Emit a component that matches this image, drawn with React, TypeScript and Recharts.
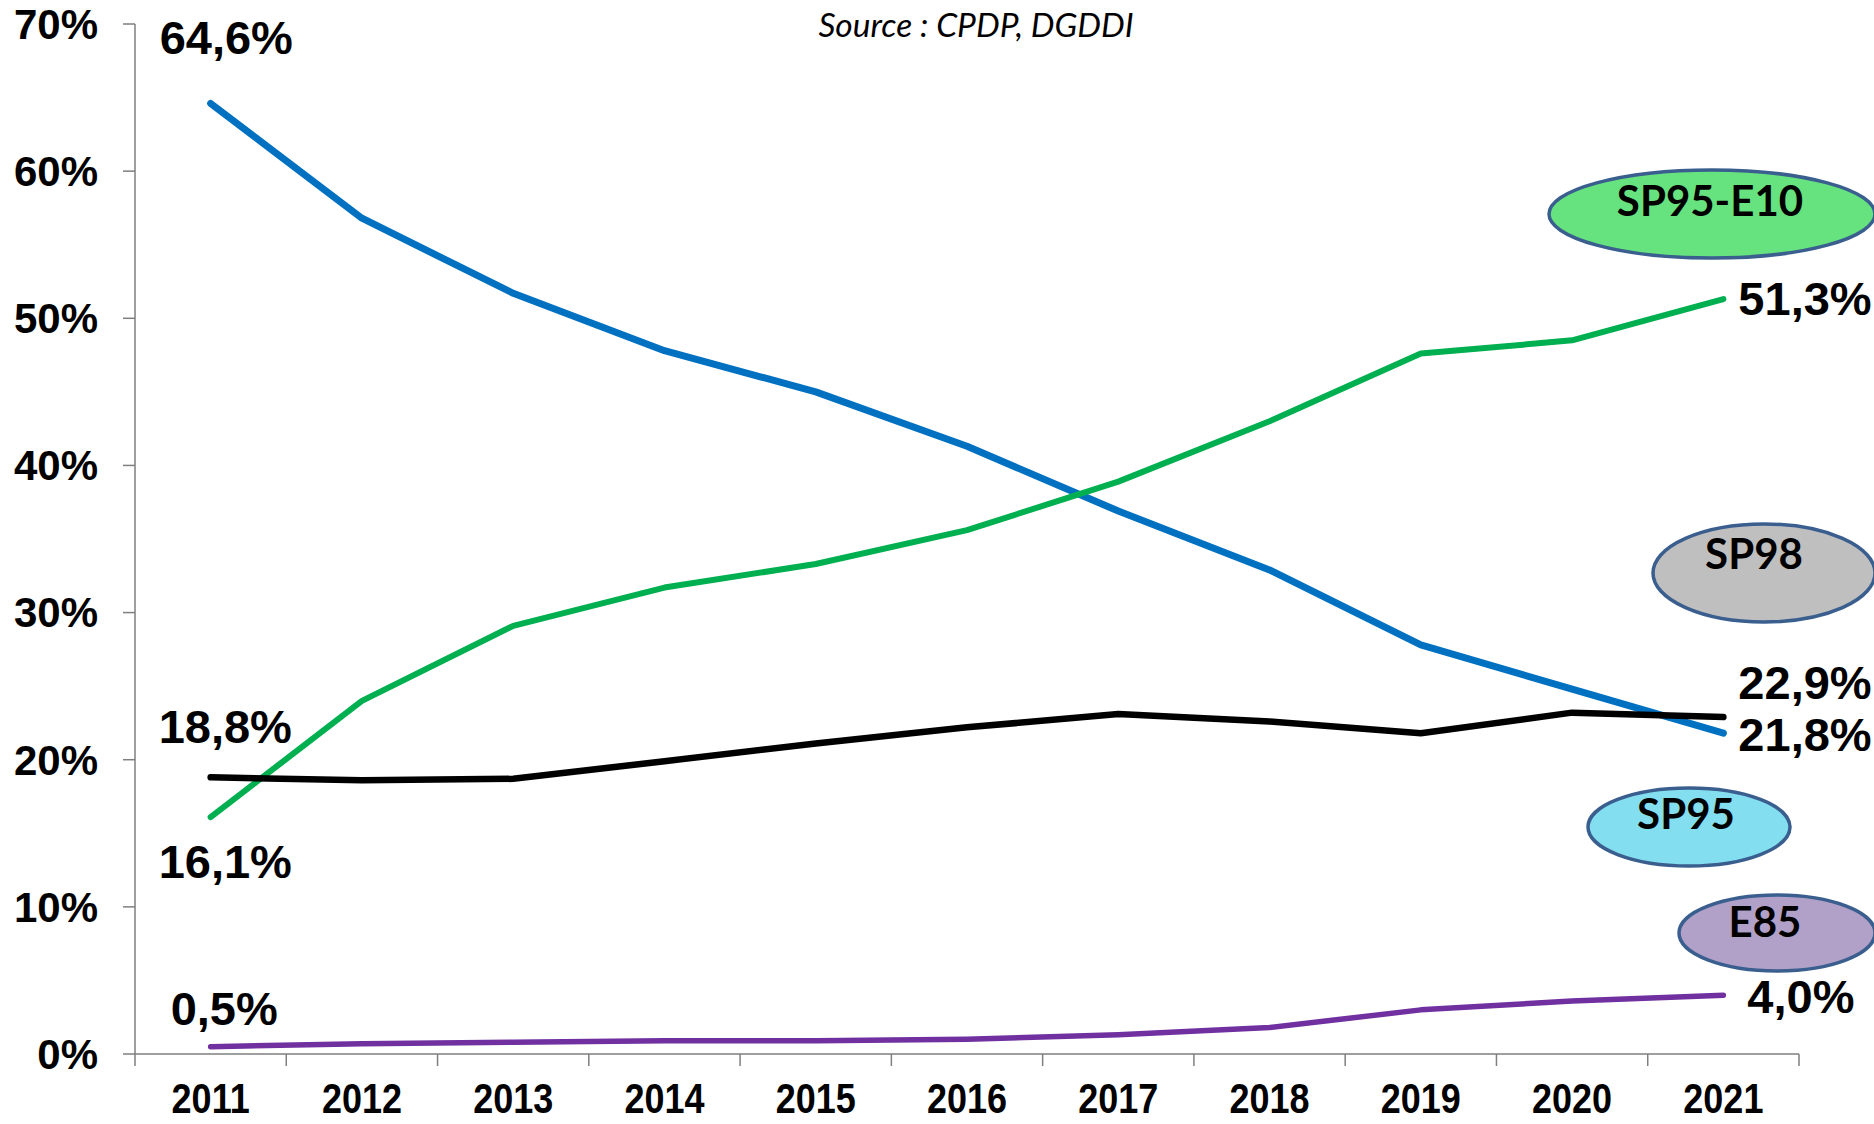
import React from 'react';
import { LineChart, Line, XAxis, YAxis, LabelList } from 'recharts';

const years = [2011, 2012, 2013, 2014, 2015, 2016, 2017, 2018, 2019, 2020, 2021];
const sp95 = [64.6, 56.8, 51.7, 47.8, 45.0, 41.3, 36.9, 32.9, 27.8, 24.8, 21.8];
const sp95e10 = [16.1, 24.0, 29.1, 31.7, 33.3, 35.6, 38.9, 43.0, 47.6, 48.5, 51.3];
const sp98 = [18.8, 18.6, 18.7, 19.9, 21.1, 22.2, 23.1, 22.6, 21.8, 23.2, 22.9];
const e85 = [0.5, 0.7, 0.8, 0.9, 0.9, 1.0, 1.3, 1.8, 3.0, 3.6, 4.0];
const yTicks = [0, 10, 20, 30, 40, 50, 60, 70];
const boundaryTicks = [2010.5, 2011.5, 2012.5, 2013.5, 2014.5, 2015.5, 2016.5, 2017.5, 2018.5, 2019.5, 2020.5, 2021.5];
const sourceText = 'Source : CPDP, DGDDI';
const legendBadges = [
  { name: 'SP95-E10', cx: 1712, cy: 214, rx: 163, ry: 44, fill: '#66E37E', tx: 1710, ty: 216 },
  { name: 'SP98', cx: 1764, cy: 573, rx: 111, ry: 49, fill: '#BFBFBF', tx: 1754, ty: 569 },
  { name: 'SP95', cx: 1689, cy: 827, rx: 101, ry: 39, fill: '#83DEF0', tx: 1686, ty: 829 },
  { name: 'E85', cx: 1777, cy: 933, rx: 98, ry: 38, fill: '#B1A0C7', tx: 1765, ty: 937 },
];

const data = years.map((y, i) => ({ year: y, sp95: sp95[i], sp95e10: sp95e10[i], sp98: sp98[i], e85: e85[i] }));

const fmt = (v: number) => v.toFixed(1).replace('.', ',') + '%';

type Off = { dx: number; dy: number };
const makeLabel = (cfg: Record<number, Off>) => (props: any) => {
  const { x, y, value, index } = props;
  const c = cfg[index];
  if (!c) return null;
  return (
    <text
      x={x + c.dx}
      y={y + c.dy}
      textAnchor="start"
      fontFamily="'Liberation Sans', Arial, sans-serif"
      fontWeight="bold"
      fontSize={47}
      fill="#000"
    >
      {fmt(value)}
    </text>
  );
};

const XTick = (props: any) => {
  const { x, y, payload } = props;
  return (
    <g transform={`translate(${x},${y})`}>
      <text
        transform="scale(1,1.18)"
        textAnchor="middle"
        dy="0.72em"
        fontFamily="'Liberation Sans', Arial, sans-serif"
        fontWeight="bold"
        fontSize={36}
        fill="#000"
      >
        {payload.value}
      </text>
    </g>
  );
};

const axisGray = '#7f7f7f';

export default function App() {
  return (
    <div style={{ position: 'absolute', left: 0, top: 0, width: 1874, height: 1124, background: '#fff' }}>
      <LineChart
        width={1874}
        height={1124}
        data={data}
        margin={{ top: 24, right: 75, bottom: 0, left: 0 }}
      >
        <XAxis
          xAxisId="b"
          type="number"
          dataKey="year"
          domain={[2010.5, 2021.5]}
          ticks={boundaryTicks}
          interval={0}
          height={1}
          tickSize={12}
          tickFormatter={() => ''}
          axisLine={{ stroke: axisGray, strokeWidth: 1.5 }}
          tickLine={{ stroke: axisGray, strokeWidth: 1.5 }}
        />
        <XAxis
          xAxisId="l"
          type="number"
          dataKey="year"
          domain={[2010.5, 2021.5]}
          ticks={years}
          interval={0}
          height={69}
          tickSize={0}
          tickMargin={27}
          axisLine={false}
          tickLine={false}
          tick={<XTick />}
        />
        <YAxis
          width={135}
          domain={[0, 70]}
          ticks={yTicks}
          interval={0}
          tickSize={12}
          tickMargin={25}
          tickFormatter={(v: number) => v + '%'}
          axisLine={{ stroke: axisGray, strokeWidth: 1.5 }}
          tickLine={{ stroke: axisGray, strokeWidth: 1.5 }}
          tick={{ fontFamily: "'Liberation Sans', Arial, sans-serif", fontWeight: 'bold', fontSize: 42, fill: '#000' }}
        />
        <Line xAxisId="l" dataKey="e85" stroke="#7030A0" strokeWidth={5.5} dot={false} strokeLinecap="round" strokeLinejoin="round" isAnimationActive={false}>
          <LabelList dataKey="e85" content={makeLabel({ 0: { dx: -40, dy: -22 }, 10: { dx: 24, dy: 18 } })} />
        </Line>
        <Line xAxisId="l" dataKey="sp95" stroke="#0070C0" strokeWidth={7} dot={false} strokeLinecap="round" strokeLinejoin="round" isAnimationActive={false}>
          <LabelList dataKey="sp95" content={makeLabel({ 0: { dx: -51, dy: -49 }, 10: { dx: 15, dy: 18 } })} />
        </Line>
        <Line xAxisId="l" dataKey="sp95e10" stroke="#00B050" strokeWidth={6} dot={false} strokeLinecap="round" strokeLinejoin="round" isAnimationActive={false}>
          <LabelList dataKey="sp95e10" content={makeLabel({ 0: { dx: -52, dy: 61 }, 10: { dx: 15, dy: 16 } })} />
        </Line>
        <Line xAxisId="l" dataKey="sp98" stroke="#000000" strokeWidth={6.5} dot={false} strokeLinecap="round" strokeLinejoin="round" isAnimationActive={false}>
          <LabelList dataKey="sp98" content={makeLabel({ 0: { dx: -52, dy: -34 }, 10: { dx: 15, dy: -18 } })} />
        </Line>
      </LineChart>
      <svg width={1874} height={1124} style={{ position: 'absolute', left: 0, top: 0, pointerEvents: 'none' }}>
        <text x={976} y={37} textAnchor="middle" fontFamily="Lato, 'Open Sans', sans-serif" fontStyle="italic" fontSize={33.5} fill="#000">
          {sourceText}
        </text>
        {legendBadges.map((b) => (
          <g key={b.name}>
            <ellipse cx={b.cx} cy={b.cy} rx={b.rx} ry={b.ry} fill={b.fill} stroke="#3A5F8F" strokeWidth={3.5} />
            <text x={b.tx} y={b.ty} textAnchor="middle" fontFamily="Lato, 'Open Sans', sans-serif" fontWeight="bold" fontSize={42} fill="#000">
              {b.name}
            </text>
          </g>
        ))}
      </svg>
    </div>
  );
}
